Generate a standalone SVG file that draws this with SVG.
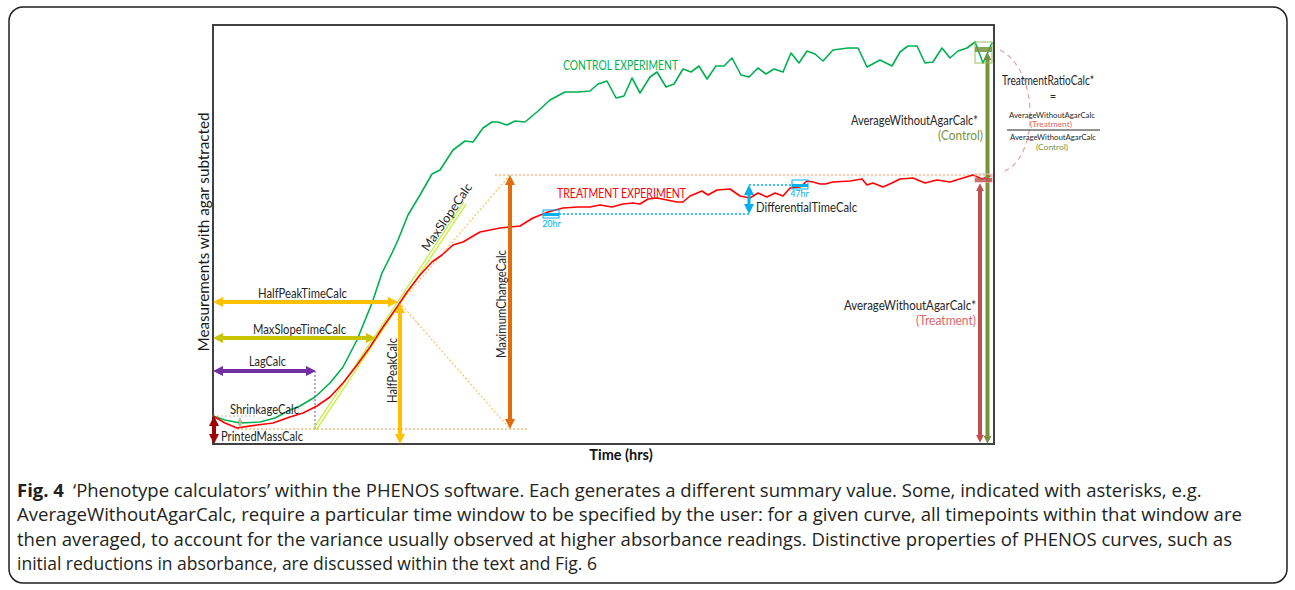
<svg xmlns="http://www.w3.org/2000/svg" width="1295" height="590" viewBox="0 0 1295 590">
<style>
.lbl{font-family:Lato,"Liberation Sans",sans-serif}
.cap{font-family:"Open Sans","Liberation Sans",sans-serif}
.curve{fill:none;stroke-width:1.6;stroke-linejoin:round;stroke-linecap:round}
.arr{fill:none;stroke-width:4}
.dotO{fill:none;stroke:#f79646;stroke-width:1.2;stroke-dasharray:2 2}
.dotY{fill:none;stroke:#fbbf5e;stroke-width:1.2;stroke-dasharray:2 2}
.dotB{fill:none;stroke:#00b0f0;stroke-width:1.4;stroke-dasharray:2 2}
</style>
<defs>
<marker id="ah-orange" viewBox="0 0 10 10" refX="4" refY="5" markerWidth="10" markerHeight="10" markerUnits="userSpaceOnUse" orient="auto-start-reverse"><path d="M0,0L10,5L0,10z" fill="#e46c0a"/></marker>
<marker id="ah-yellow" viewBox="0 0 10 10" refX="4" refY="5" markerWidth="10" markerHeight="10" markerUnits="userSpaceOnUse" orient="auto-start-reverse"><path d="M0,0L10,5L0,10z" fill="#ffc000"/></marker>
<marker id="ah-olivey" viewBox="0 0 10 10" refX="4" refY="5" markerWidth="10" markerHeight="10" markerUnits="userSpaceOnUse" orient="auto-start-reverse"><path d="M0,0L10,5L0,10z" fill="#c8c400"/></marker>
<marker id="ah-purple" viewBox="0 0 10 10" refX="4" refY="5" markerWidth="10" markerHeight="10" markerUnits="userSpaceOnUse" orient="auto-start-reverse"><path d="M0,0L10,5L0,10z" fill="#7030a0"/></marker>
<marker id="ah-darkred" viewBox="0 0 10 10" refX="4" refY="5" markerWidth="10" markerHeight="10" markerUnits="userSpaceOnUse" orient="auto-start-reverse"><path d="M0,0L10,5L0,10z" fill="#a00000"/></marker>
<marker id="ah-blue" viewBox="0 0 10 10" refX="4" refY="5" markerWidth="10" markerHeight="10" markerUnits="userSpaceOnUse" orient="auto-start-reverse"><path d="M0,0L10,5L0,10z" fill="#00b0f0"/></marker>
<marker id="ah-tan" viewBox="0 0 10 10" refX="4" refY="5" markerWidth="5" markerHeight="5" markerUnits="userSpaceOnUse" orient="auto-start-reverse"><path d="M0,0L10,5L0,10z" fill="#c4bd97"/></marker>
<marker id="ah-red" viewBox="0 0 10 10" refX="4" refY="5" markerWidth="8" markerHeight="8" markerUnits="userSpaceOnUse" orient="auto-start-reverse"><path d="M0,0L10,5L0,10z" fill="#c0504d"/></marker>
<marker id="ah-green" viewBox="0 0 10 10" refX="4" refY="5" markerWidth="8" markerHeight="8" markerUnits="userSpaceOnUse" orient="auto-start-reverse"><path d="M0,0L10,5L0,10z" fill="#77933c"/></marker>
</defs>
<rect x="9" y="7" width="1278" height="576" rx="14" fill="#fff" stroke="#231f20" stroke-width="1.5"/>
<g id="plot-frame"><rect x="213" y="25" width="781" height="419" fill="none" stroke="#404040" stroke-width="2"/></g>
<g id="axis-labels" class="lbl" fill="#1a1a1a">
<text transform="translate(209,232) rotate(-90)" text-anchor="middle" font-size="16" textLength="239" lengthAdjust="spacingAndGlyphs">Measurements with agar subtracted</text>
<text x="621" y="460" text-anchor="middle" font-size="14.5" font-weight="bold" fill="#111">Time (hrs)</text>
</g>
<g id="guides">
<line class="dotO" x1="495" y1="175" x2="992" y2="175"/>
<line class="dotO" x1="237" y1="429" x2="528" y2="429"/>
<polyline class="dotY" points="510,175 400,303 510,429"/>
<line x1="315" y1="371" x2="315" y2="429" stroke="#9966cc" stroke-width="1.2" stroke-dasharray="2 2"/>
<line x1="213" y1="416" x2="257" y2="416" stroke="#c4bd97" stroke-width="1.2" stroke-dasharray="2 2"/>
<line class="dotB" x1="559" y1="214" x2="749" y2="214"/>
<line class="dotB" x1="749" y1="185" x2="792" y2="185"/>
<line x1="313.8" y1="428.2" x2="463.8" y2="202.2" stroke="#c6ef3f" stroke-width="1.3"/>
<line x1="316.3" y1="429.8" x2="466.3" y2="203.8" stroke="#c6ef3f" stroke-width="1.3"/>
</g>
<g id="control-curve">
<polyline class="curve" stroke="#00b050" points="213,416 225,420 240,423 260,422 275,418 290,410 300,406 315,397 330,383 343,367 357,340 372,303 382,273 392,253 398,240 408,215 420,195 432,174 440,170 453,150 465,141 473,142 483,128 492,122 498,122 507,125 515,121 525,122 537,112 550,100 565,92 578,92 590,91 598,84 607,81 616,98 624,96 632,78 640,93 650,77 657,72 666,87 674,84 683,69 691,72 699,66 707,79 716,66 724,66 732,58 741,75 749,77 758,68 766,74 774,69 783,72 791,53 799,63 807,51 815,54 823,61 833,50 848,48 858,48 867,67 880,60 892,66 900,52 908,46 917,46 925,63 933,62 942,48 950,58 958,51 967,48 975,42 983,63 992,43"/>
<text class="lbl" x="563" y="70" fill="#00b050" font-size="13" textLength="115" lengthAdjust="spacingAndGlyphs">CONTROL EXPERIMENT</text>
</g>
<g id="treatment-curve">
<polyline class="curve" stroke="#ff0000" points="213,416 225,423 237,428 257,425 273,423 290,417 303,413 317,406 330,397 343,383 357,365 370,347 383,327 397,307 407,292 420,275 432,262 442,255 453,245 463,242 480,232 500,228 510,227 520,226 533,218 548,212 563,208 578,207 590,207 600,205 612,207 623,204 633,203 640,204 648,199 657,198 667,200 677,202 683,202 690,196 702,191 708,195 717,190 730,189 740,196 750,198 758,193 767,197 775,193 783,196 790,188 800,187 807,181 813,182 820,184 825,184 833,182 850,181 862,179 867,185 873,183 883,187 892,183 900,179 913,178 925,183 937,180 950,182 963,178 973,175 982,179 990,176"/>
<text class="lbl" x="557" y="198" fill="#ff0000" font-size="13.5" textLength="129" lengthAdjust="spacingAndGlyphs">TREATMENT EXPERIMENT</text>
</g>
<g id="connectors">
<line class="arr" stroke="#ffc000" x1="219" y1="302" x2="392" y2="302" marker-start="url(#ah-yellow)" marker-end="url(#ah-yellow)"/>
<line class="arr" stroke="#c8c400" x1="219" y1="338" x2="370" y2="338" marker-start="url(#ah-olivey)" marker-end="url(#ah-olivey)"/>
<line class="arr" stroke="#7030a0" x1="219" y1="371" x2="310" y2="371" marker-start="url(#ah-purple)" marker-end="url(#ah-purple)"/>
<line class="arr" stroke="#ffc000" x1="400" y1="309" x2="400" y2="438" marker-start="url(#ah-yellow)" marker-end="url(#ah-yellow)"/>
<line class="arr" stroke="#e46c0a" x1="510" y1="181" x2="510" y2="423" marker-start="url(#ah-orange)" marker-end="url(#ah-orange)"/>
<line class="arr" stroke="#a00000" x1="214" y1="422" x2="214" y2="438" marker-start="url(#ah-darkred)" marker-end="url(#ah-darkred)"/>
<line stroke="#c4bd97" stroke-width="1.5" x1="240" y1="420" x2="240" y2="425" marker-start="url(#ah-tan)" marker-end="url(#ah-tan)"/>
<line stroke="#00b0f0" stroke-width="3" x1="749" y1="191" x2="749" y2="208" marker-start="url(#ah-blue)" marker-end="url(#ah-blue)"/>
<line class="arr" stroke="#c0504d" x1="980" y1="188" x2="980" y2="438" marker-start="url(#ah-red)" marker-end="url(#ah-red)"/>
<line class="arr" stroke="#77933c" x1="987.5" y1="57" x2="987.5" y2="439" marker-start="url(#ah-green)" marker-end="url(#ah-green)"/>
<path d="M1000,50 C1040,70 1040,160 1002,172" fill="none" stroke="#e8a0a0" stroke-width="1.2" stroke-dasharray="5 4"/>
</g>
<g id="window-boxes">
<rect x="975" y="42" width="17" height="21" fill="none" stroke="#9bbb59" stroke-width="1"/>
<rect x="975" y="47" width="17" height="5" fill="#77933c" opacity="0.85"/>
<rect x="975" y="174" width="17" height="8" fill="none" stroke="#e6b9b8" stroke-width="1"/>
<rect x="975" y="178" width="17" height="4" fill="#c0504d" opacity="0.8"/>
<rect x="543" y="210" width="16" height="8" fill="none" stroke="#00b0f0" stroke-width="1"/>
<rect x="543" y="213" width="16" height="3" fill="#00b0f0"/>
<rect x="792" y="180" width="16" height="9" fill="none" stroke="#00b0f0" stroke-width="1"/>
<rect x="792" y="184" width="16" height="3" fill="#00b0f0"/>
<text class="lbl" x="551.5" y="227" text-anchor="middle" fill="#00b0f0" font-size="9">20hr</text>
<text class="lbl" x="799.5" y="197" text-anchor="middle" fill="#00b0f0" font-size="9">47hr</text>
</g>
<g id="labels" class="lbl" fill="#262626" font-size="12.5">
<text x="258" y="298" textLength="89" lengthAdjust="spacingAndGlyphs">HalfPeakTimeCalc</text>
<text x="253" y="334" textLength="93" lengthAdjust="spacingAndGlyphs">MaxSlopeTimeCalc</text>
<text x="249" y="366" textLength="37" lengthAdjust="spacingAndGlyphs">LagCalc</text>
<text x="230" y="414" textLength="69" lengthAdjust="spacingAndGlyphs">ShrinkageCalc</text>
<text x="221" y="441" textLength="82" lengthAdjust="spacingAndGlyphs">PrintedMassCalc</text>
<text transform="translate(397,403) rotate(-90)" textLength="65" lengthAdjust="spacingAndGlyphs">HalfPeakCalc</text>
<text transform="translate(506,358) rotate(-90)" textLength="108" lengthAdjust="spacingAndGlyphs">MaximumChangeCalc</text>
<text transform="translate(428,252) rotate(-55.5)" textLength="79" lengthAdjust="spacingAndGlyphs">MaxSlopeCalc</text>
<text x="756" y="212" font-size="13.5" textLength="101" lengthAdjust="spacingAndGlyphs">DifferentialTimeCalc</text>
<text x="978" y="125" text-anchor="end" font-size="13" textLength="127" lengthAdjust="spacingAndGlyphs">AverageWithoutAgarCalc*</text>
<text x="983" y="140" text-anchor="end" font-size="13" fill="#77933c" textLength="45" lengthAdjust="spacingAndGlyphs">(Control)</text>
<text x="976" y="310" text-anchor="end" font-size="13" textLength="132" lengthAdjust="spacingAndGlyphs">AverageWithoutAgarCalc*</text>
<text x="976" y="325" text-anchor="end" font-size="13" fill="#e06666" textLength="60" lengthAdjust="spacingAndGlyphs">(Treatment)</text>
</g>
<g id="ratio" class="lbl" fill="#262626" font-size="8">
<text x="1002" y="85" font-size="14" textLength="92" lengthAdjust="spacingAndGlyphs">TreatmentRatioCalc*</text>
<text x="1053" y="100" text-anchor="middle" font-size="11">=</text>
<text x="1052" y="118" text-anchor="middle" textLength="86" lengthAdjust="spacingAndGlyphs">AverageWithoutAgarCalc</text>
<text x="1051" y="127" text-anchor="middle" fill="#e06666" textLength="42" lengthAdjust="spacingAndGlyphs">(Treatment)</text>
<line x1="1007" y1="130" x2="1100" y2="130" stroke="#262626" stroke-width="1"/>
<text x="1053" y="140" text-anchor="middle" textLength="86" lengthAdjust="spacingAndGlyphs">AverageWithoutAgarCalc</text>
<text x="1052" y="150" text-anchor="middle" fill="#77933c" textLength="32" lengthAdjust="spacingAndGlyphs">(Control)</text>
</g>
<g id="caption" class="cap" fill="#231f20" font-size="18.5">
<text x="17" y="497" font-weight="bold">Fig. 4</text>
<text x="73" y="497">‘Phenotype calculators’ within the PHENOS software. Each generates a different summary value. Some, indicated with asterisks, e.g.</text>
<text x="17" y="521" textLength="1225" lengthAdjust="spacingAndGlyphs">AverageWithoutAgarCalc, require a particular time window to be specified by the user: for a given curve, all timepoints within that window are</text>
<text x="17" y="546" textLength="1215" lengthAdjust="spacingAndGlyphs">then averaged, to account for the variance usually observed at higher absorbance readings. Distinctive properties of PHENOS curves, such as</text>
<text x="17" y="570" textLength="580" lengthAdjust="spacingAndGlyphs">initial reductions in absorbance, are discussed within the text and Fig. 6</text>
</g>
</svg>
